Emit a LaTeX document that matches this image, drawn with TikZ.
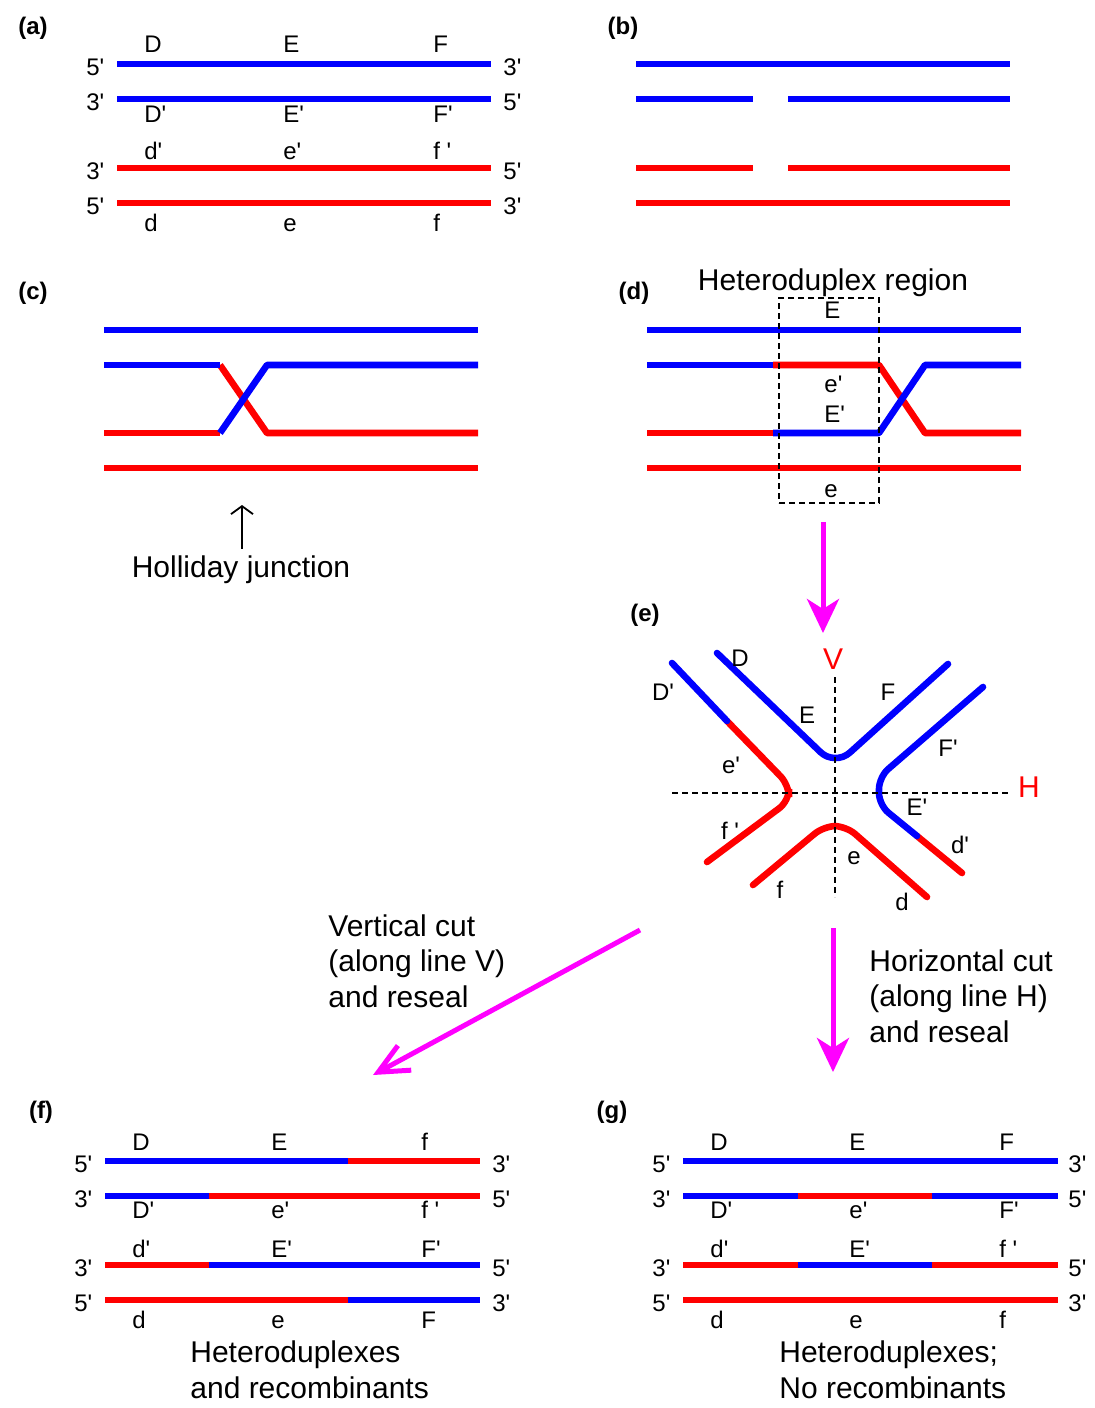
\documentclass[tikz,border=0pt]{standalone}
\usepackage{fontspec}
\setmainfont{Liberation Sans}
\usetikzlibrary{arrows.meta}

\definecolor{dnablue}{RGB}{0,0,255}
\definecolor{dnared}{RGB}{255,0,0}
\definecolor{stepmag}{RGB}{255,0,255}
\newcommand{\apos}{\textquotesingle}

\tikzset{
  bluestrand/.style={draw=dnablue, line width=3.3pt},
  redstrand/.style={draw=dnared, line width=3.3pt},
  lbl/.style={inner sep=0pt, anchor=base west, font=\fontsize{12}{14}\selectfont},
  elbl/.style={inner sep=0pt, font=\fontsize{12}{14}\selectfont},
  caption/.style={inner sep=0pt, anchor=base west, align=left, font=\fontsize{15}{17.75}\selectfont},
  panel/.style={inner sep=0pt, font=\fontsize{12}{14}\selectfont\bfseries},
  cutline/.style={draw=black, line width=0.8pt, dash pattern=on 3pt off 2pt},
  steparrow/.style={draw=stepmag, line width=2.5pt, -{Stealth[length=17pt,width=16pt,inset=5pt]}},
}

\begin{document}
\begin{tikzpicture}[x=0.5pt, y=-0.5pt]
\useasboundingbox (0,0) rectangle (1095,1408);

% (a) the two parental duplexes
\node[panel] (pa) at (33,28) {(a)};
\draw[bluestrand] (117,64) -- (491,64);
\draw[bluestrand] (117,99) -- (491,99);
\draw[redstrand] (117,168) -- (491,168);
\draw[redstrand] (117,203) -- (491,203);
\foreach \y/\lend/\rend [count=\i] in {64/5/3,99/3/5,168/3/5,203/5/3} {
  \node[lbl] (al\i) at (86,\y+11) {\lend\apos};
  \node[lbl] (ar\i) at (503,\y+11) {\rend\apos};
}
\foreach \x/\rA/\rB/\rC/\rD [count=\i] in {144/D/D\apos/d\apos/d, 283/E/E\apos/e\apos/e, 433/F/F\apos/f \apos/f} {
  \node[lbl] (a1\i) at (\x,53) {\rA};
  \node[lbl] (a2\i) at (\x,122) {\rB};
  \node[lbl] (a3\i) at (\x,159) {\rC};
  \node[lbl] (a4\i) at (\x,231) {\rD};
}

% (b) nicks in the two inner strands
\node[panel] (pb) at (623,28) {(b)};
\draw[bluestrand] (636,64) -- (1010,64);
\draw[bluestrand] (636,99) -- (753,99);
\draw[bluestrand] (788,99) -- (1010,99);
\draw[redstrand] (636,168) -- (753,168);
\draw[redstrand] (788,168) -- (1010,168);
\draw[redstrand] (636,203) -- (1010,203);

% (c) strand exchange
\node[panel] (pc) at (33,293) {(c)};
\draw[bluestrand] (104,330) -- (478,330);
\draw[redstrand] (104,433) -- (220,433);
\draw[redstrand, line join=round] (220,365) -- (267,433) -- (478,433);
\draw[bluestrand] (104,365) -- (220,365);
\draw[bluestrand, line join=round] (220,433) -- (267,365) -- (478,365);
\draw[redstrand] (104,468) -- (478,468);
\node[caption, anchor=base] (hj) at (241,577) {Holliday junction};
\coordinate (hjtip) at (242,505);
\draw[line width=0.9pt, shorten <=3pt, -{Straight Barb[length=4pt,width=11pt]}] (hj.north -| hjtip) -- (hjtip);

% (d) branch migration
\node[panel] (pd) at (634,293) {(d)};
\node[caption, anchor=base] (hreg) at (833,290) {Heteroduplex region};
\draw[bluestrand] (647,330) -- (1021,330);
\draw[redstrand] (647,433) -- (773,433);
\draw[redstrand, line join=round] (773,365) -- (879,365) -- (925,433) -- (1021,433);
\draw[bluestrand] (647,365) -- (773,365);
\draw[bluestrand, line join=round] (773,433) -- (879,433) -- (925,365) -- (1021,365);
\draw[redstrand] (647,468) -- (1021,468);
\node[cutline, minimum width=50pt, minimum height=102.5pt, inner sep=0pt] (hbox) at (829,400.5) {};
\node[lbl] (dE) at (824,318) {E};
\node[lbl] (de1) at (824,392) {e\apos};
\node[lbl] (dE1) at (824,422) {E\apos};
\node[lbl] (de) at (824,497) {e};

\coordinate (dstart) at (823,522);
\coordinate (etip) at (823,633);
\draw[steparrow] (dstart) -- (etip);

% (e) the junction opened out
\node[panel] (pe) at (645,615) {(e)};
\draw[bluestrand, line cap=round, rounded corners=10pt] (717,653) -- (835,766) -- (948,664);
\draw[redstrand, line cap=round, rounded corners=6pt] (727,721) -- (789,785) -- (789,801) -- (707,862);
\draw[bluestrand, line cap=round] (672,663) -- (727,721);
\draw[redstrand, line cap=round] (917,836) -- (962,873);
\draw[bluestrand, line cap=round, rounded corners=6pt] (983,687) -- (879,777) -- (879,805) -- (917,836);
\draw[redstrand, line cap=round, rounded corners=6pt] (753,885) -- (824,826) -- (846,826) -- (927,897);
\draw[cutline] (835,677) -- (835,897);
\draw[cutline] (672,793) -- (1008,793);
\node[elbl, text=dnared, font=\fontsize{15}{17}\selectfont] (vlab) at (833,659) {V};
\node[elbl, text=dnared, font=\fontsize{15}{17}\selectfont] (hlab) at (1029,787) {H};
\node[elbl] (eD) at (740,658) {D};
\node[elbl] (eD1) at (663,692) {D\apos};
\node[elbl] (eE) at (807,715) {E};
\node[elbl] (ee1) at (731,765) {e\apos};
\node[elbl] (ef1) at (730,831) {f \apos};
\node[elbl] (ef) at (780,890) {f};
\node[elbl] (eF) at (888,692) {F};
\node[elbl] (eF1) at (948,748) {F\apos};
\node[elbl] (eE1) at (917,807) {E\apos};
\node[elbl] (ee) at (854,858) {e};
\node[elbl] (ed1) at (960,845) {d\apos};
\node[elbl] (ed) at (902,902) {d};

% the two ways of resolving it
\coordinate (vstart) at (640,930);
\coordinate (ftip) at (373,1075);
\draw[draw=stepmag, line width=2.5pt, -{Straight Barb[length=15pt,width=14pt]}] (vstart) -- (ftip);
\coordinate (hstart) at (833,928);
\coordinate (gtip) at (833,1072);
\draw[steparrow] (hstart) -- (gtip);
% multi-line nodes sit on the baseline of their last line
\node[caption] (vcut) at (328,1007) {Vertical cut\\(along line V)\\and reseal};
\node[caption] (hcut) at (869,1042) {Horizontal cut\\(along line H)\\and reseal};

% (f) vertical cut products
\node[panel] (pf) at (41,1112) {(f)};
\draw[bluestrand] (105,1161) -- (348,1161);
\draw[redstrand] (348,1161) -- (480,1161);
\draw[bluestrand] (105,1196) -- (209,1196);
\draw[redstrand] (209,1196) -- (480,1196);
\draw[redstrand] (105,1265) -- (209,1265);
\draw[bluestrand] (209,1265) -- (480,1265);
\draw[redstrand] (105,1300) -- (348,1300);
\draw[bluestrand] (348,1300) -- (480,1300);
\foreach \y/\lend/\rend [count=\i] in {1161/5/3,1196/3/5,1265/3/5,1300/5/3} {
  \node[lbl] (fl\i) at (74,\y+11) {\lend\apos};
  \node[lbl] (fr\i) at (492,\y+11) {\rend\apos};
}
\foreach \x/\rA/\rB/\rC/\rD [count=\i] in {132/D/D\apos/d\apos/d, 271/E/e\apos/E\apos/e, 421/f/f \apos/F\apos/F} {
  \node[lbl] (f1\i) at (\x,1150) {\rA};
  \node[lbl] (f2\i) at (\x,1218) {\rB};
  \node[lbl] (f3\i) at (\x,1257) {\rC};
  \node[lbl] (f4\i) at (\x,1328) {\rD};
}
\node[caption] (fcap) at (190,1398) {Heteroduplexes\\and recombinants};

% (g) horizontal cut products
\node[panel] (pg) at (612,1112) {(g)};
\draw[bluestrand] (683,1161) -- (1058,1161);
\draw[bluestrand] (683,1196) -- (798,1196);
\draw[redstrand] (798,1196) -- (932,1196);
\draw[bluestrand] (932,1196) -- (1058,1196);
\draw[redstrand] (683,1265) -- (798,1265);
\draw[bluestrand] (798,1265) -- (932,1265);
\draw[redstrand] (932,1265) -- (1058,1265);
\draw[redstrand] (683,1300) -- (1058,1300);
\foreach \y/\lend/\rend [count=\i] in {1161/5/3,1196/3/5,1265/3/5,1300/5/3} {
  \node[lbl] (gl\i) at (652,\y+11) {\lend\apos};
  \node[lbl] (gr\i) at (1068,\y+11) {\rend\apos};
}
\foreach \x/\rA/\rB/\rC/\rD [count=\i] in {710/D/D\apos/d\apos/d, 849/E/e\apos/E\apos/e, 999/F/F\apos/f \apos/f} {
  \node[lbl] (g1\i) at (\x,1150) {\rA};
  \node[lbl] (g2\i) at (\x,1218) {\rB};
  \node[lbl] (g3\i) at (\x,1257) {\rC};
  \node[lbl] (g4\i) at (\x,1328) {\rD};
}
\node[caption] (gcap) at (779,1398) {Heteroduplexes;\\No recombinants};
\end{tikzpicture}
\end{document}
